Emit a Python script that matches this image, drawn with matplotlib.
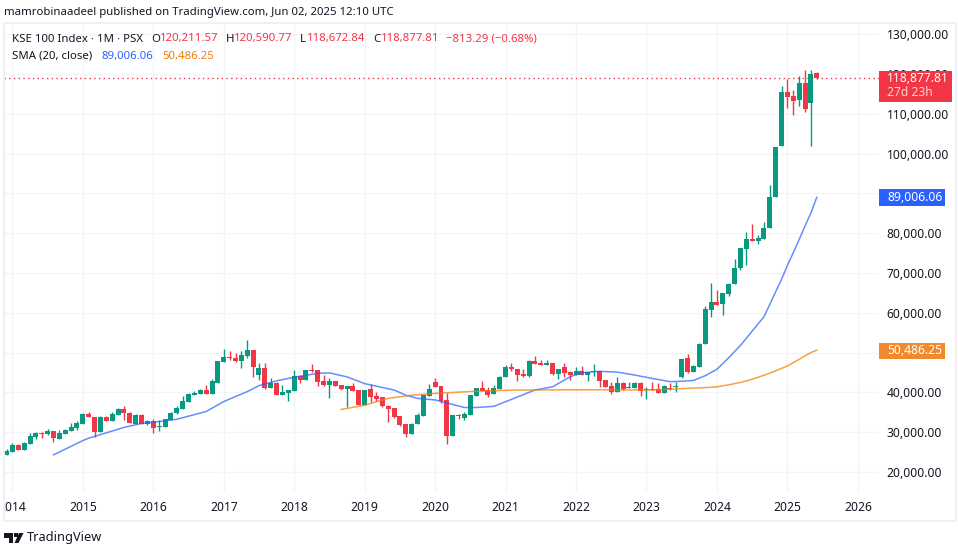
import numpy as np
import matplotlib
matplotlib.use("Agg")
import matplotlib.pyplot as plt
from matplotlib.patches import Rectangle, Polygon

# monthly candles from Dec 2013 to Jun 2025, values in thousands of points
opens = [24.3,25.1,26.8,25.5,27.0,28.8,29.8,29.6,30.2,28.3,29.65,30.3,31.0,32.1,34.6,33.75,30.15,33.85,32.8,34.4,
         35.75,34.75,32.1,34.35,32.1,32.75,31.4,31.4,33.1,34.7,35.9,37.7,39.45,39.6,40.6,39.7,42.45,47.75,48.85,48.65,
         47.9,49.15,50.65,44.4,46.15,41.05,42.3,39.45,39.85,40.45,44.15,43.05,45.55,45.55,42.9,41.9,42.9,41.8,40.9,41.6,
         40.6,36.8,40.85,39.1,38.75,36.7,36.0,34.05,32.05,29.5,31.95,34.15,39.1,42.6,41.6,38.1,29.05,34.4,33.65,34.4,
         39.15,41.1,40.6,39.6,40.9,43.8,46.35,45.85,44.7,44.1,47.95,47.35,46.8,47.35,44.6,46.35,45.2,44.35,45.3,44.35,
         45.0,45.3,43.1,41.6,40.0,42.45,41.1,41.2,42.45,40.5,40.75,40.75,39.85,41.2,41.35,43.9,48.6,45.15,46.4,52.1,
         60.7,62.8,62.15,64.65,67.15,71.15,75.95,78.6,78.05,78.6,81.2,89.15,101.8,115.35,114.5,113.35,117.85,112.7,120.21]
highs = [25.7,27.2,27.0,27.5,29.7,30.1,30.0,30.7,30.4,30.6,30.7,32.25,32.7,34.9,35.1,33.75,34.1,34.1,35.0,36.1,
         36.5,35.0,34.6,34.5,33.1,33.25,33.1,33.3,35.1,36.6,39.1,39.85,40.3,40.9,41.8,43.4,47.9,50.85,50.35,49.85,
         50.35,53.2,50.7,47.3,47.4,43.55,42.7,41.9,40.55,45.65,44.4,45.65,47.15,45.6,44.4,43.55,42.9,41.8,41.7,42.3,
         40.6,40.7,42.0,40.0,38.9,36.8,36.1,34.1,32.1,32.4,34.7,39.4,42.1,43.6,41.6,39.75,34.3,34.5,35.15,39.4,
         41.2,42.85,41.25,41.9,44.0,46.8,47.3,45.9,46.0,48.1,49.1,48.1,48.1,47.4,45.9,47.5,45.3,46.3,46.6,45.0,
         47.1,45.3,43.1,42.7,43.75,42.7,42.7,42.7,42.5,41.4,42.6,42.45,41.85,42.45,42.7,48.4,49.6,46.8,52.35,61.7,
         67.4,65.65,64.95,67.4,73.45,76.35,80.3,82.2,79.45,82.9,92.0,101.6,117.1,118.85,116.1,119.6,120.9,120.9,120.59]
lows = [24.3,25.1,25.5,25.5,27.0,28.3,28.6,29.3,27.6,28.3,29.6,30.3,30.6,32.1,33.7,28.9,30.15,32.7,32.8,34.4,
        33.1,32.2,32.1,32.1,31.75,29.9,30.4,31.4,33.1,34.6,35.9,37.7,39.45,39.6,39.7,39.7,42.45,47.75,48.15,47.65,
        46.25,48.75,43.95,43.15,40.95,41.05,39.45,39.45,37.95,40.45,42.45,43.05,45.05,41.7,41.7,38.7,41.7,40.6,36.45,40.45,
        36.8,36.8,37.5,37.9,36.4,32.6,33.45,31.55,28.85,29.5,31.95,34.15,39.1,41.3,37.25,27.1,29.05,33.3,33.05,34.4,
        39.15,40.25,38.75,39.6,40.9,43.8,45.45,42.95,43.8,43.8,47.05,46.95,46.8,44.35,43.25,43.95,43.1,44.35,44.35,42.95,
        44.1,41.4,41.4,39.65,40.0,40.6,41.1,41.2,39.1,38.4,40.5,39.85,39.85,40.6,40.15,43.55,44.9,45.15,46.4,52.1,
        58.95,62.0,59.45,64.2,67.15,70.75,72.0,78.05,77.2,78.45,81.2,89.15,101.8,111.35,109.6,111.9,110.4,101.9,118.67]
closes = [25.3,26.7,25.5,27.2,29.1,29.8,29.65,30.2,28.6,29.8,30.5,31.3,32.25,34.6,33.7,30.15,33.85,32.8,34.6,35.85,
          34.7,32.2,34.35,32.1,32.75,31.15,31.6,33.25,34.75,36.1,37.85,39.6,39.85,40.6,39.7,42.8,47.85,48.85,48.6,47.85,
          49.35,50.65,46.5,46.15,41.15,42.45,39.45,40.05,40.55,44.15,43.15,45.55,45.3,42.7,41.95,42.9,41.7,40.9,41.6,40.45,
          36.8,40.6,38.85,38.4,36.55,35.8,33.7,31.8,29.5,32.05,34.3,39.3,40.85,41.35,37.85,29.05,34.3,34.05,34.55,39.3,
          41.1,40.25,39.4,41.1,43.95,46.35,45.8,44.35,44.2,47.95,47.05,46.95,47.3,44.6,45.85,44.95,44.35,45.3,44.35,45.0,
          45.3,42.85,41.4,40.0,42.45,40.75,41.25,42.45,40.4,40.9,40.5,39.85,41.6,40.9,41.5,48.3,45.15,46.55,52.1,60.9,
          62.65,62.0,64.9,67.15,71.35,76.2,78.6,78.05,78.7,81.2,89.15,101.55,115.35,114.1,113.2,117.85,111.1,119.9,118.88]
# month 0 is Jan 2014
months = list(range(-1, 138))

sma_blue_months = [7,12,13,19,22,26,28,33,36,40,42,45,48,52,54,57,60,65,67,69,72,77,79,82,85,89,92,95,97,100,103,106,109,112,114,116,118,120,122,124,126,128,129,130,131,132,133,134,135,136,137]
sma_blue = [24.3,27.9,28.5,31.2,32.2,32.85,33.25,35.2,37.7,40.2,41.7,42.9,43.8,44.8,44.9,43.9,42.2,40.6,39.3,38.5,38.1,36.2,36.2,36.5,38.25,40.6,41.4,43.95,44.95,45.3,45.1,44.35,43.5,42.7,42.8,43.0,44.2,45.8,48.7,51.8,55.4,59.0,62.1,65.3,68.4,71.9,75.1,78.4,81.8,85.1,89.0]
sma_orange_months = [56,60,64,68,72,79,86,98,109,114,118,120,122,124,126,128,130,132,134,135,136,137]
sma_orange = [35.7,36.8,38.5,39.3,39.75,40.3,40.6,40.65,40.6,40.95,41.2,41.4,41.9,42.5,43.3,44.3,45.4,46.65,48.3,49.2,50.0,50.6]

year_ticks = [0,12,24,36,48,60,72,84,96,108,120,132,144]
year_labels = ['2014','2015','2016','2017','2018','2019','2020','2021','2022','2023','2024','2025','2026']
price_ticks = [20000,30000,40000,50000,60000,70000,80000,90000,100000,110000,120000,130000]
last_close = 118877.81

GREEN = '#089981'
RED = '#F23645'
BLUE = '#2962FF'
ORANGE = '#F57C00'
INK = '#131722'
GRID = '#F2F4F7'
W, H = 958, 549
FONT = 'Noto Sans'


def fx(x):
    return x / W


def fy(y):
    return 1 - y / H


def put(x, y, s, color=INK, size=8.2, **kw):
    # text placed by picture pixels
    return fig.text(fx(x), fy(y), s, color=color, fontsize=size, family=FONT, va='center', **kw)


def tag(x0, x1, y0, y1, color):
    fig.patches.append(Rectangle((fx(x0), fy(y1)), fx(x1 - x0), (y1 - y0) / H, transform=fig.transFigure,
                                 facecolor=color, edgecolor='none', zorder=2))


fig = plt.figure(figsize=(W / 100, H / 100), dpi=100)
ax = fig.add_axes([fx(4), fy(492), fx(875), 469 / H])

o = np.array(opens) * 1000
h = np.array(highs) * 1000
l = np.array(lows) * 1000
c = np.array(closes) * 1000
o[-1], h[-1], l[-1], c[-1] = 120211.57, 120590.77, 118672.84, last_close
colors = [GREEN if b >= a else RED for a, b in zip(o, c)]

ax.vlines(months, l, h, colors=colors, linewidth=1.0, zorder=3)
ax.bar(months, np.maximum(np.abs(c - o), 120), bottom=np.minimum(o, c), width=0.85, color=colors, linewidth=0, zorder=4)
ax.plot(sma_blue_months, np.array(sma_blue) * 1000, color=BLUE, lw=1.1, alpha=0.72, zorder=5)
ax.plot(sma_orange_months, np.array(sma_orange) * 1000, color=ORANGE, lw=1.1, alpha=0.72, zorder=5)
ax.axhline(last_close, color=RED, lw=1, ls=(0, (1, 2.4)), zorder=2)

ax.set_xlim(-1.43, 147.6)
ax.set_ylim(14975, 132810)
ax.set_xticks(year_ticks, year_labels)
# the 50,000 label sits fully behind the orange price tag in the original
ax.set_yticks(price_ticks, ['' if p == 50000 else f'{p:,.2f}' for p in price_ticks])
ax.yaxis.tick_right()
ax.tick_params(axis='y', length=0, pad=5.5, labelsize=8.7, labelcolor=INK)
ax.tick_params(axis='x', length=0, pad=6.6, labelsize=8.7, labelcolor=INK)
for t in ax.get_xticklabels() + ax.get_yticklabels():
    t.set_family(FONT)
ax.grid(True, color=GRID, lw=0.9)
ax.set_axisbelow(True)
for s in ax.spines.values():
    s.set_visible(False)

# chart frame, and a white strip that cuts the first year label like the original
fig.patches.append(Rectangle((0, fy(516)), fx(4), 24 / H, transform=fig.transFigure, facecolor='white', edgecolor='none', zorder=1))
fig.patches.append(Rectangle((fx(3.5), fy(520.5)), fx(952), 497.5 / H, transform=fig.transFigure, fill=False, edgecolor='#EEF0F3', lw=1.4, zorder=1))

tag(879, 952, 71, 102, RED)
tag(879, 945, 189, 206, BLUE)
tag(879, 945, 343, 359, '#F08A2C')
put(887, 79, '118,877.81', color='white', size=8.7)
put(887, 92, '27d 23h', color='#FFD0D5', size=8.7)
put(887, 197.5, '89,006.06', color='white', size=8.7)
put(887, 351, '50,486.25', color='white', size=8.7)

put(4, 12, 'mamrobinaadeel published on TradingView.com, Jun 02, 2025 12:10 UTC')
put(12, 39, 'KSE 100 Index · 1M · PSX')
put(151, 39, 'O')
put(160, 39, '120,211.57', color=RED)
put(226, 39, 'H')
put(234, 39, '120,590.77', color=RED)
put(300, 39, 'L')
put(307, 39, '118,672.84', color=RED)
put(373, 39, 'C')
put(381, 39, '118,877.81', color=RED)
put(446, 39, '−813.29 (−0.68%)', color=RED)
put(12, 56, 'SMA (20, close)')
put(101, 56, '89,006.06', color=BLUE)
put(162, 56, '50,486.25', color=ORANGE)

# TradingView logo and name
logo_t = [(4, 533), (13, 533), (13, 543), (8.5, 543), (8.5, 537.5), (4, 537.5)]
logo_v = [(19, 533), (23.5, 533), (18.5, 543), (14.5, 543)]
for shape in (logo_t, logo_v):
    fig.patches.append(Polygon([(fx(a), fy(b)) for a, b in shape], transform=fig.transFigure, facecolor=INK, edgecolor='none'))
fig.patches.append(Rectangle((fx(14), fy(537)), fx(3.6), 3.6 / H, transform=fig.transFigure, facecolor=INK, edgecolor='none'))
put(27, 538, 'TradingView', size=9.2)

fig.savefig('out.png', dpi=100)
